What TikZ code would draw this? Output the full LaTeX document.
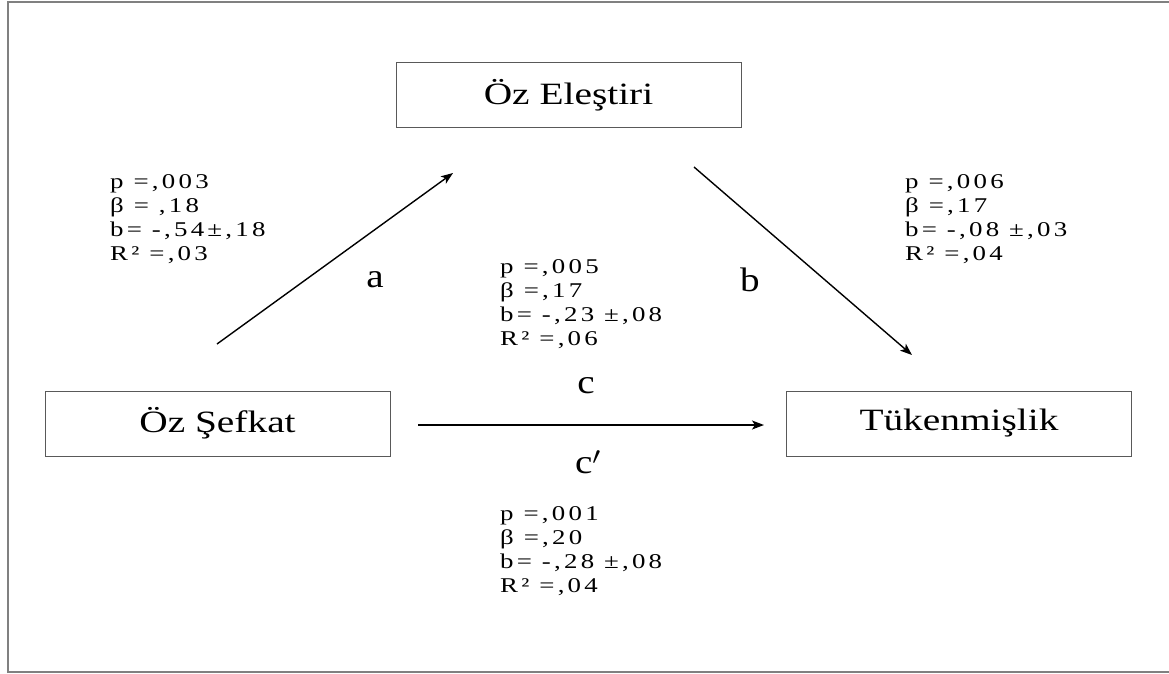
\documentclass[tikz,border=0pt]{standalone}
\usepackage{fontspec}
\setmainfont{Liberation Serif}
\newfontfamily\statfont[LetterSpace=12]{Liberation Serif}
\usepackage{graphicx}
\usetikzlibrary{arrows.meta}
\newcommand{\wide}[2][1.27]{\scalebox{#1}[1]{#2}}
\begin{document}
\begin{tikzpicture}[x=1pt,y=-1pt,
  box/.style={draw=black!65, line width=1pt, minimum width=345pt, minimum height=65pt, inner sep=0pt, font=\fontsize{31}{36}\selectfont},
  stat/.style={anchor=base west, inner sep=0pt, font=\statfont\fontsize{21}{24.3}\selectfont},
  lbl/.style={inner sep=0pt, font=\fontsize{34}{38}\selectfont},
  arr/.style={line width=1.4pt, -{Stealth[length=12pt,width=9pt,inset=3pt]}},
  frameline/.style={draw=gray, line width=2pt}]
\useasboundingbox (0,0) rectangle (1169,673);
% frame
\coordinate (f1) at (8,673);
\coordinate (f2) at (8,1.5);
\coordinate (f3) at (1169,1.5);
\coordinate (f4) at (8,671.5);
\coordinate (f5) at (1169,671.5);
\draw[frameline] (f1) -- (f2) -- (f3);
\draw[frameline] (f4) -- (f5);
% boxes
\node[box] (oe) at (568.5,95) {\wide{Öz Eleştiri}};
\node[box] (os) at (217.5,423.5) {\wide{Öz Şefkat}};
\node[box] (tk) at (959,423.5) {\wide{Tükenmişlik}};
% arrows
\coordinate (a1) at (217,344);
\coordinate (a2) at (453,173);
\coordinate (b1) at (694,167);
\coordinate (b2) at (912,355);
\coordinate (c1) at (418,425);
\coordinate (c2) at (764,425);
\draw[arr] (a1) -- (a2);
\draw[arr] (b1) -- (b2);
\draw[arr] (c1) -- (c2);
% path labels
\node[lbl] (la) at (375,280) {\wide[1.15]{a}};
\node[lbl] (lb) at (750,280) {\wide[1.15]{b}};
\node[lbl] (lc) at (586,386) {\wide[1.15]{c}};
\node[lbl] (lcp) at (588,462) {\wide[1.15]{c$'$}};
% statistics
\node[stat] (s1) at (110,188) {\wide[1.28]{\begin{tabular}[t]{@{}l@{}}p =,003\\ β = ,18\\ b= -,54±,18\\ R² =,03\end{tabular}}};
\node[stat] (s2) at (500,273) {\wide[1.28]{\begin{tabular}[t]{@{}l@{}}p =,005\\ β =,17\\ b= -,23 ±,08\\ R² =,06\end{tabular}}};
\node[stat] (s3) at (905,188) {\wide[1.28]{\begin{tabular}[t]{@{}l@{}}p =,006\\ β =,17\\ b= -,08 ±,03\\ R² =,04\end{tabular}}};
\node[stat] (s4) at (500,520) {\wide[1.28]{\begin{tabular}[t]{@{}l@{}}p =,001\\ β =,20\\ b= -,28 ±,08\\ R² =,04\end{tabular}}};
\end{tikzpicture}
\end{document}
